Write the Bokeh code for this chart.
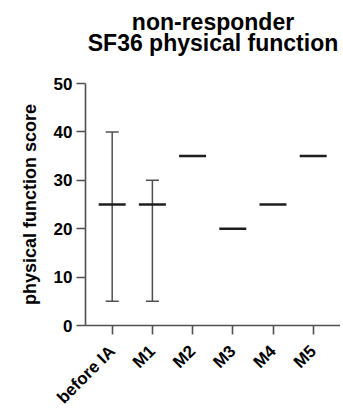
from bokeh.plotting import figure
from bokeh.models import Range1d, FixedTicker, Title, Whisker, ColumnDataSource, TeeHead
from bokeh.embed import file_html
from bokeh.resources import INLINE
import math

# data
categories = ["before IA", "M1", "M2", "M3", "M4", "M5"]
means = [25, 25, 35, 20, 25, 35]
err_idx = [0, 1]
err_lower = [5, 5]
err_upper = [40, 30]
y_ticks = [0, 10, 20, 30, 40, 50]

FONT = "Liberation Sans"
AXIS_COLOR = "#505050"

p = figure(frame_width=255, frame_height=242, output_backend="svg", toolbar_location=None,
           x_range=Range1d(-0.664, 5.679), y_range=Range1d(0, 50),
           min_border_left=85, min_border_right=0, min_border_top=83, min_border_bottom=0)
p.outline_line_color = None
p.xgrid.visible = False
p.ygrid.visible = False
p.background_fill_color = "white"

# spacing between title block and plot area
p.add_layout(Title(text=" ", text_font_size="1px", standoff=25), "above")
p.add_layout(Title(text="SF36 physical function", align="center", text_font=FONT,
                   text_font_size="23px", text_font_style="bold", text_color="black",
                   standoff=0, offset=5), "above")
p.add_layout(Title(text="non-responder", align="center", text_font=FONT,
                   text_font_size="23px", text_font_style="bold", text_color="black",
                   standoff=-14, offset=5), "above")

xs = list(range(len(categories)))

# error bars
src_err = ColumnDataSource(dict(x=err_idx, lo=err_lower, hi=err_upper))
wh = Whisker(base="x", lower="lo", upper="hi", source=src_err, dimension="height",
             line_color=AXIS_COLOR, line_width=1.5,
             upper_head=TeeHead(size=13, line_color=AXIS_COLOR, line_width=1.5),
             lower_head=TeeHead(size=13, line_color=AXIS_COLOR, line_width=1.5))
p.add_layout(wh)

# mean lines
p.dash(x=xs, y=means, size=27, angle=0, line_color="#1e1e1e", line_width=2.5)

for ax in (p.xaxis[0], p.yaxis[0]):
    ax.axis_line_color = AXIS_COLOR
    ax.axis_line_width = 1.6
    ax.major_tick_line_color = AXIS_COLOR
    ax.major_tick_line_width = 1.6
    ax.major_tick_out = 9
    ax.major_tick_in = 0
    ax.minor_tick_line_color = None
    ax.major_label_text_font = FONT
    ax.major_label_text_font_size = "17px"
    ax.major_label_text_font_style = "bold"
    ax.major_label_text_color = "black"

p.xaxis.ticker = FixedTicker(ticks=xs)
p.xaxis.major_label_overrides = {i: c for i, c in enumerate(categories)}
p.xaxis.major_label_orientation = math.pi / 4
p.xaxis.major_label_standoff = 14

p.yaxis.ticker = FixedTicker(ticks=y_ticks)
p.yaxis.major_label_standoff = 4
p.yaxis.axis_label = "physical function score"
p.yaxis.axis_label_text_font = FONT
p.yaxis.axis_label_text_font_size = "18px"
p.yaxis.axis_label_text_font_style = "bold"
p.yaxis.axis_label_text_color = "black"
p.yaxis.axis_label_standoff = 11

open("out.html", "w").write(file_html(p, INLINE))
